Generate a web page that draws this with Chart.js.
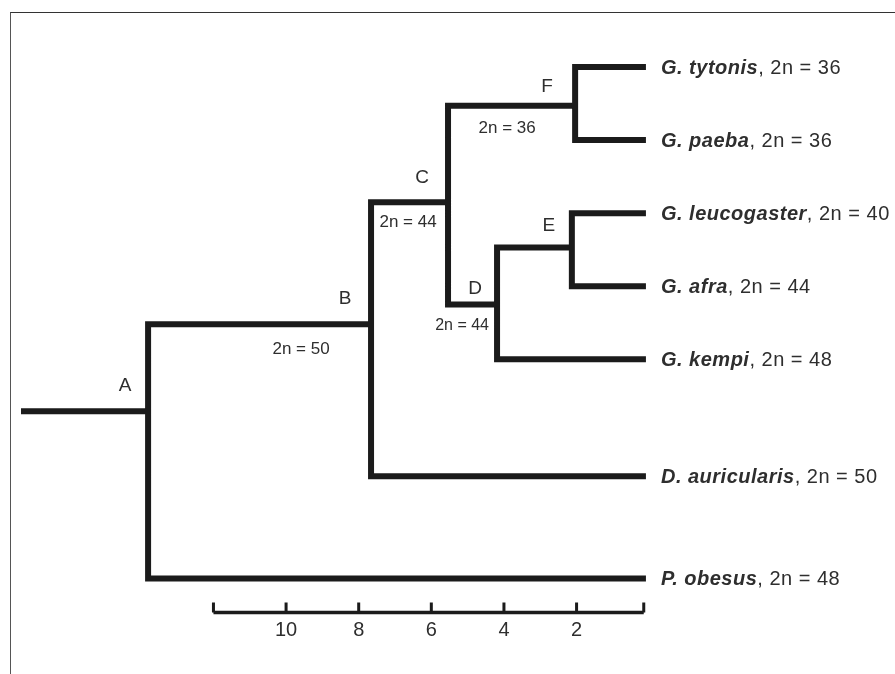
<!DOCTYPE html>
<html>
<head>
<meta charset="utf-8">
<script src="https://cdn.jsdelivr.net/npm/chart.js@4.4.1/dist/chart.umd.min.js"></script>
<style>
  html, body { margin: 0; padding: 0; background: #fff; }
  #cadre { position: absolute; left: 10px; top: 12px; width: 900px; height: 700px; border-left: 1px solid #555; border-top: 1px solid #333; }
  #arbre { position: absolute; left: 0; top: 0; }
</style>
</head>
<body>
<div id="cadre"></div>
<canvas id="arbre" width="895" height="674"></canvas>
<script>
// === DONNÉES ===
const taxons = ['G. tytonis', 'G. paeba', 'G. leucogaster', 'G. afra', 'G. kempi', 'D. auricularis', 'P. obesus'];
const caryotypesTaxons = [36, 36, 40, 44, 48, 50, 48];
const rangsTaxons = [1, 2, 3, 4, 5, 6.6, 8];
const ageTaxons = 0.09;

const noeuds = ['A', 'B', 'C', 'D', 'E', 'F'];
const agesNoeuds = [13.8, 7.66, 5.54, 4.19, 2.13, 2.04];
const rangsNoeuds = [5.71, 4.52, 2.85, 4.25, 3.47, 1.53];
const caryotypesNoeuds = [null, 50, 44, 44, null, 36];
const ageRacine = 17.3;

// enfants de chaque noeud (une lettre = un noeud, sinon un taxon)
const enfants = {
  A: ['B', 'P. obesus'],
  B: ['C', 'D. auricularis'],
  C: ['F', 'D'],
  D: ['E', 'G. kempi'],
  E: ['G. leucogaster', 'G. afra'],
  F: ['G. tytonis', 'G. paeba']
};

// échelle de temps
const graduations = [10, 8, 6, 4, 2];
const bornesEchelle = [12, 0.15];
const rangEchelle = 8.466;
const rangHautGraduation = 8.33;

// === STYLES ===
const couleurTrait = '#1b1b1b';
const couleurTexte = '#2e2e2e';
const police = '"Liberation Sans", Arial, sans-serif';
// décalages (px) des étiquettes par rapport au noeud
const decalageLettres = { A: [-23, -25], B: [-26, -25], C: [-26, -24], D: [-22, -16], E: [-23, -22], F: [-28, -19] };
const decalageCaryo = { B: [-70, 25, 17], C: [-40, 20, 17], D: [-35, 21, 16], F: [-68, 23, 17] };

// POSITION D'UN NOEUD OU D'UN TAXON
function position(nom) {
  const i = noeuds.indexOf(nom);
  if (i >= 0) return { x: agesNoeuds[i], y: rangsNoeuds[i] };
  const j = taxons.indexOf(nom);
  return { x: ageTaxons, y: rangsTaxons[j] };
}

const trou = { x: null, y: null };

// BRANCHES DE L'ARBRE
const pointsArbre = [{ x: ageRacine, y: rangsNoeuds[0] }, { x: agesNoeuds[0], y: rangsNoeuds[0] }, trou];
noeuds.forEach((n, i) => {
  const [e1, e2] = enfants[n].map(position);
  pointsArbre.push(
    { x: e1.x, y: e1.y },
    { x: agesNoeuds[i], y: e1.y },
    { x: agesNoeuds[i], y: e2.y },
    { x: e2.x, y: e2.y },
    trou
  );
});

// BARRE D'ÉCHELLE
const pointsBarre = bornesEchelle.map(v => ({ x: v, y: rangEchelle }));
const pointsGrad = [];
[bornesEchelle[0], ...graduations, bornesEchelle[1]].forEach(v => {
  pointsGrad.push({ x: v, y: rangEchelle }, { x: v, y: rangHautGraduation }, trou);
});

const styleLigne = { pointRadius: 0, borderColor: couleurTrait, spanGaps: false, tension: 0, clip: false, borderCapStyle: 'butt', borderJoinStyle: 'miter', fill: false };

// ÉTIQUETTES (lettres, caryotypes, taxons)
const etiquettes = {
  id: 'etiquettes',
  afterDatasetsDraw(chart) {
    const { ctx, scales: { x, y } } = chart;
    ctx.save();
    ctx.fillStyle = couleurTexte;
    ctx.textAlign = 'center';
    ctx.textBaseline = 'middle';

    noeuds.forEach((n, i) => {
      const px = x.getPixelForValue(agesNoeuds[i]);
      const py = y.getPixelForValue(rangsNoeuds[i]);
      const [dx, dy] = decalageLettres[n];
      ctx.font = '19px ' + police;
      ctx.fillText(n, px + dx, py + dy);
      if (caryotypesNoeuds[i] !== null) {
        const [cx, cy, taille] = decalageCaryo[n];
        ctx.font = taille + 'px ' + police;
        ctx.fillText('2n = ' + caryotypesNoeuds[i], px + cx, py + cy);
      }
    });

    ctx.textAlign = 'left';
    ctx.textBaseline = 'alphabetic';
    ctx.letterSpacing = '0.5px';
    taxons.forEach((t, j) => {
      let px = x.getPixelForValue(ageTaxons) + 15;
      const py = y.getPixelForValue(rangsTaxons[j]) + 7;
      ctx.font = 'italic bold 20px ' + police;
      ctx.fillText(t, px, py);
      px += ctx.measureText(t).width;
      ctx.font = '20px ' + police;
      ctx.fillText(', 2n = ' + caryotypesTaxons[j], px, py);
    });
    ctx.restore();
  }
};

new Chart(document.getElementById('arbre'), {
  type: 'line',
  data: {
    datasets: [
      { label: 'arbre', data: pointsArbre, borderWidth: 6, ...styleLigne },
      { label: 'echelle', data: pointsBarre, borderWidth: 3.5, ...styleLigne },
      { label: 'graduations', data: pointsGrad, borderWidth: 3, ...styleLigne }
    ]
  },
  options: {
    responsive: false,
    animation: false,
    devicePixelRatio: 1,
    layout: { padding: { left: 21, right: 245.8, top: 30.5, bottom: 29 } },
    plugins: { legend: { display: false }, tooltip: { enabled: false } },
    scales: {
      x: {
        type: 'linear',
        reverse: true,
        min: 0,
        max: ageRacine,
        grid: { display: false, drawTicks: false },
        border: { display: false },
        ticks: { color: couleurTexte, font: { size: 20, family: police }, padding: 3 },
        afterBuildTicks: axe => { axe.ticks = graduations.map(v => ({ value: v })); }
      },
      y: { type: 'linear', reverse: true, min: 0.5, max: 8.5, display: false }
    }
  },
  plugins: [etiquettes]
});
</script>
</body>
</html>
